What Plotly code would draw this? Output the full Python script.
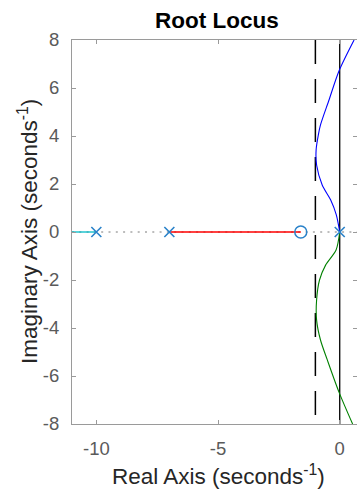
import plotly.graph_objects as go

# Open-loop poles and zero
pole_re = [-10, -7, 0]
pole_im = [0, 0, 0]
zero_re = [-1.6]
zero_im = [0]

# Real-axis branches
cyan_re = [-11, -10]
red_re = [-7, -1.6]

# Complex branches leaving the double pole at the origin
upper_re = [0.0, -0.14, -0.37, -0.72, -0.95, -0.97, -0.88, -0.79, -0.44, -0.03, 0.59]
upper_im = [0.0, 0.71, 1.33, 1.96, 2.79, 3.42, 4.04, 4.46, 5.50, 6.71, 8.0]
lower_re = [0.0, -0.15, -0.58, -0.83, -0.95, -0.95, -0.79, -0.51, -0.03, 0.53]
lower_im = [0.0, -0.75, -1.38, -2.0, -2.83, -3.67, -4.5, -5.33, -6.67, -8.0]

# Reference lines
dashed_re = -1
solid_re = 0

x_range = [-11, 0.71]
y_range = [-8, 8]
x_ticks = [-10, -5, 0]
y_ticks = [-8, -6, -4, -2, 0, 2, 4, 6, 8]

FONT = "Liberation Sans, Arial, Helvetica, sans-serif"
AXIS_GRAY = "#9a9a9a"
MARK_BLUE = "#2a82c9"
TICK_GRAY = "#5a5a5a"

# plot area in pixels
L, T, W, H = 72, 40, 285, 384

fig = go.Figure()

# dotted real axis
fig.add_trace(go.Scatter(x=[-11, 1], y=[0, 0], mode="lines",
                         line=dict(color="#7a7a7a", width=1, dash="2px,5.3px"),
                         hoverinfo="skip"))
# vertical reference lines
fig.add_trace(go.Scatter(x=[dashed_re, dashed_re], y=[8, -8], mode="lines",
                         line=dict(color="black", width=1.5, dash="24px,15px"),
                         hoverinfo="skip"))
fig.add_trace(go.Scatter(x=[solid_re, solid_re], y=[8, -8], mode="lines",
                         line=dict(color="black", width=1.3),
                         hoverinfo="skip"))

# locus branches
fig.add_trace(go.Scatter(x=cyan_re, y=[0, 0], mode="lines",
                         line=dict(color="#00bcc8", width=1.3)))
fig.add_trace(go.Scatter(x=red_re, y=[0, 0], mode="lines",
                         line=dict(color="#ff0000", width=1.3)))
fig.add_trace(go.Scatter(x=upper_re, y=upper_im, mode="lines",
                         line=dict(color="#0000ff", width=1.1, shape="spline", smoothing=0.8)))
fig.add_trace(go.Scatter(x=lower_re, y=lower_im, mode="lines",
                         line=dict(color="#008000", width=1.1, shape="spline", smoothing=0.8)))

# poles and zero
fig.add_trace(go.Scatter(x=pole_re, y=pole_im, mode="markers",
                         marker=dict(symbol="x-thin", size=10,
                                     line=dict(color=MARK_BLUE, width=1.6))))
fig.add_trace(go.Scatter(x=zero_re, y=zero_im, mode="markers",
                         marker=dict(symbol="circle-open", size=12, color=MARK_BLUE,
                                     line=dict(color=MARK_BLUE, width=1.5))))


def px_x(px):
    return (px - L) / W


def px_y(py):
    return (T + H - py) / H


fig.update_layout(
    width=357, height=494,
    margin=dict(l=L, r=357 - L - W, t=T, b=494 - T - H),
    paper_bgcolor="white", plot_bgcolor="white",
    showlegend=False,
    font=dict(family=FONT, color="#404040", size=18),
    annotations=[
        dict(text="<b>Root Locus</b>", xref="paper", yref="paper",
             x=px_x(217), y=px_y(20), xanchor="center", yanchor="middle",
             showarrow=False, font=dict(size=22.5, color="black", family=FONT)),
        dict(text="Real Axis (seconds<sup>-1</sup>)", xref="paper", yref="paper",
             x=px_x(218), y=px_y(475), xanchor="center", yanchor="middle",
             showarrow=False, font=dict(size=22.5, color="#262626", family=FONT)),
        dict(text="Imaginary Axis (seconds<sup>-1</sup>)", xref="paper", yref="paper",
             x=px_x(28), y=0.5, xanchor="center", yanchor="middle", textangle=-90,
             showarrow=False, font=dict(size=22.5, color="#262626", family=FONT)),
    ],
)

fig.update_xaxes(range=x_range, tickvals=x_ticks, ticktext=[str(v) for v in x_ticks],
                 showgrid=False, zeroline=False, showline=True, mirror="ticks",
                 linecolor=AXIS_GRAY, linewidth=1, ticks="inside", ticklen=4,
                 tickcolor=AXIS_GRAY, ticklabelstandoff=8,
                 tickfont=dict(size=18.5, color=TICK_GRAY))
fig.update_yaxes(range=y_range, tickvals=y_ticks, ticktext=[str(v) for v in y_ticks],
                 showgrid=False, zeroline=False, showline=True, mirror="ticks",
                 linecolor=AXIS_GRAY, linewidth=1, ticks="inside", ticklen=4,
                 tickcolor=AXIS_GRAY, ticklabelstandoff=8,
                 tickfont=dict(size=18.5, color=TICK_GRAY))

fig.write_html("out.html")
